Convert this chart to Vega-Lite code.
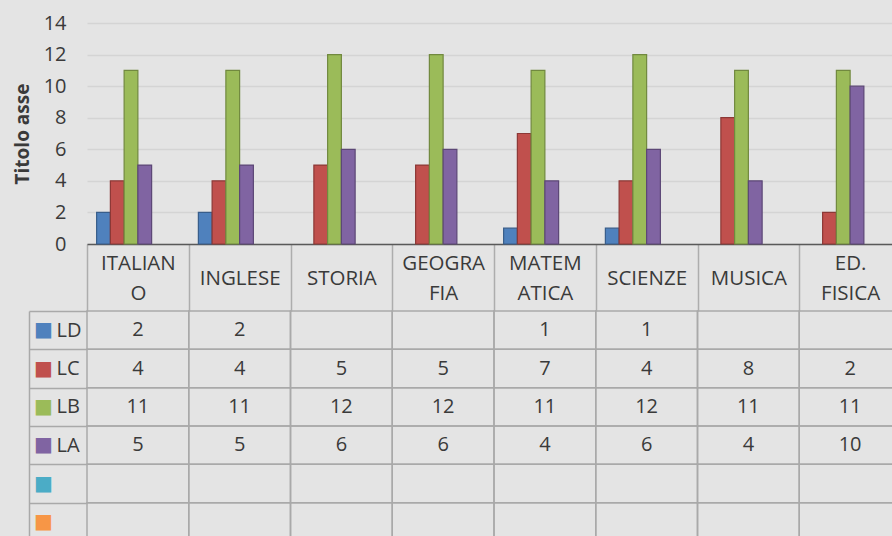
{
  "$schema": "https://vega.github.io/schema/vega-lite/v6.json",
  "background": "#e4e4e4",
  "padding": {"left": 13, "top": 13, "right": 0, "bottom": 0},
  "config": {"font": "Open Sans", "view": {"stroke": null}},
  "datasets": {
    "cells": [
      {"subject": "ITALIANO", "series": "LD", "value": 2},
      {"subject": "ITALIANO", "series": "LC", "value": 4},
      {"subject": "ITALIANO", "series": "LB", "value": 11},
      {"subject": "ITALIANO", "series": "LA", "value": 5},
      {"subject": "ITALIANO", "series": "Serie5", "value": null},
      {"subject": "ITALIANO", "series": "Serie6", "value": null},
      {"subject": "INGLESE", "series": "LD", "value": 2},
      {"subject": "INGLESE", "series": "LC", "value": 4},
      {"subject": "INGLESE", "series": "LB", "value": 11},
      {"subject": "INGLESE", "series": "LA", "value": 5},
      {"subject": "INGLESE", "series": "Serie5", "value": null},
      {"subject": "INGLESE", "series": "Serie6", "value": null},
      {"subject": "STORIA", "series": "LD", "value": null},
      {"subject": "STORIA", "series": "LC", "value": 5},
      {"subject": "STORIA", "series": "LB", "value": 12},
      {"subject": "STORIA", "series": "LA", "value": 6},
      {"subject": "STORIA", "series": "Serie5", "value": null},
      {"subject": "STORIA", "series": "Serie6", "value": null},
      {"subject": "GEOGRAFIA", "series": "LD", "value": null},
      {"subject": "GEOGRAFIA", "series": "LC", "value": 5},
      {"subject": "GEOGRAFIA", "series": "LB", "value": 12},
      {"subject": "GEOGRAFIA", "series": "LA", "value": 6},
      {"subject": "GEOGRAFIA", "series": "Serie5", "value": null},
      {"subject": "GEOGRAFIA", "series": "Serie6", "value": null},
      {"subject": "MATEMATICA", "series": "LD", "value": 1},
      {"subject": "MATEMATICA", "series": "LC", "value": 7},
      {"subject": "MATEMATICA", "series": "LB", "value": 11},
      {"subject": "MATEMATICA", "series": "LA", "value": 4},
      {"subject": "MATEMATICA", "series": "Serie5", "value": null},
      {"subject": "MATEMATICA", "series": "Serie6", "value": null},
      {"subject": "SCIENZE", "series": "LD", "value": 1},
      {"subject": "SCIENZE", "series": "LC", "value": 4},
      {"subject": "SCIENZE", "series": "LB", "value": 12},
      {"subject": "SCIENZE", "series": "LA", "value": 6},
      {"subject": "SCIENZE", "series": "Serie5", "value": null},
      {"subject": "SCIENZE", "series": "Serie6", "value": null},
      {"subject": "MUSICA", "series": "LD", "value": null},
      {"subject": "MUSICA", "series": "LC", "value": 8},
      {"subject": "MUSICA", "series": "LB", "value": 11},
      {"subject": "MUSICA", "series": "LA", "value": 4},
      {"subject": "MUSICA", "series": "Serie5", "value": null},
      {"subject": "MUSICA", "series": "Serie6", "value": null},
      {"subject": "ED. FISICA", "series": "LD", "value": null},
      {"subject": "ED. FISICA", "series": "LC", "value": 2},
      {"subject": "ED. FISICA", "series": "LB", "value": 11},
      {"subject": "ED. FISICA", "series": "LA", "value": 10},
      {"subject": "ED. FISICA", "series": "Serie5", "value": null},
      {"subject": "ED. FISICA", "series": "Serie6", "value": null}
    ]
  },
  "data": {"name": "cells"},
  "bounds": "flush",
  "spacing": 67,
  "vconcat": [
    {
      "width": 814,
      "height": 221,
      "mark": {"type": "bar", "strokeWidth": 1.2},
      "encoding": {
        "x": {
          "field": "subject", "type": "nominal",
          "scale": {"domain": ["ITALIANO", "INGLESE", "STORIA", "GEOGRAFIA", "MATEMATICA", "SCIENZE", "MUSICA", "ED. FISICA"], "paddingInner": 0, "paddingOuter": 0},
          "axis": {
            "title": null, "orient": "bottom",
            "domain": true, "domainColor": "#595959", "domainWidth": 1.5,
            "ticks": true, "tickBand": "extent", "tickSize": 67, "tickColor": "#adadad", "tickWidth": 1.5,
            "labelAngle": 0, "labelFontSize": 20.5, "labelColor": "#3a3a3a", "labelBaseline": "middle", "labelAlign": "center",
            "labelPadding": -47.5, "labelLineHeight": 15, "labelOverlap": false, "labelLimit": 0,
            "labelExpr": "datum.value == 'ITALIANO' ? ['ITALIAN', '\u200b', 'O'] : datum.value == 'GEOGRAFIA' ? ['GEOGRA', '\u200b', 'FIA'] : datum.value == 'MATEMATICA' ? ['MATEM', '\u200b', 'ATICA'] : datum.value == 'ED. FISICA' ? ['ED.', '\u200b', 'FISICA'] : ['\u200b', datum.label]",
            "grid": false
          }
        },
        "xOffset": {
          "field": "series", "type": "nominal",
          "scale": {"domain": ["LD", "LC", "LB", "LA", "Serie5", "Serie6"], "paddingInner": 0, "paddingOuter": 0.7}
        },
        "y": {
          "field": "value", "type": "quantitative",
          "scale": {"domain": [0, 14], "nice": false},
          "axis": {
            "values": [0, 2, 4, 6, 8, 10, 12, 14],
            "grid": true, "gridColor": "#d4d4d4", "gridWidth": 1.5,
            "domain": false, "ticks": false,
            "labelFontSize": 20, "labelColor": "#3a3a3a", "labelPadding": 21,
            "title": "Titolo asse", "titleFontSize": 19, "titleFontWeight": "bold", "titleColor": "#3a3a3a", "titlePadding": 11
          }
        },
        "color": {
          "field": "series", "type": "nominal",
          "scale": {"domain": ["LD", "LC", "LB", "LA", "Serie5", "Serie6"], "range": ["#4f81bd", "#c0504d", "#9bbb59", "#8064a2", "#4bacc6", "#f79646"]},
          "legend": null
        },
        "stroke": {
          "field": "series", "type": "nominal",
          "scale": {"domain": ["LD", "LC", "LB", "LA", "Serie5", "Serie6"], "range": ["#385d8a", "#8c3836", "#71893f", "#5c4776", "#357d91", "#b66d31"]},
          "legend": null
        }
      }
    },
    {
      "width": 814,
      "height": 230,
      "layer": [
        {
          "mark": {"type": "rect", "filled": false, "stroke": "#a9a9a9", "strokeWidth": 1.5},
          "encoding": {
            "x": {
              "field": "subject", "type": "nominal",
              "scale": {"domain": ["ITALIANO", "INGLESE", "STORIA", "GEOGRAFIA", "MATEMATICA", "SCIENZE", "MUSICA", "ED. FISICA"], "paddingInner": 0, "paddingOuter": 0},
              "axis": null
            },
            "y": {
              "field": "series", "type": "nominal",
              "scale": {"domain": ["LD", "LC", "LB", "LA", "Serie5", "Serie6"], "paddingInner": 0, "paddingOuter": 0},
              "axis": {
                "orient": "left", "offset": 58, "title": null, "grid": false,
                "domain": true, "domainColor": "#a9a9a9", "domainWidth": 1.5,
                "ticks": false, "tickSize": 0,
                "labelExpr": "'■'", "labelFont": "DejaVu Sans", "labelFontSize": 20,
                "labelAlign": "center", "labelBaseline": "middle", "labelPadding": -14,
                "labelColor": {"expr": "datum.value === 'LD' ? '#4f81bd' : datum.value === 'LC' ? '#c0504d' : datum.value === 'LB' ? '#9bbb59' : datum.value === 'LA' ? '#8064a2' : datum.value === 'Serie5' ? '#4bacc6' : '#f79646'"}
              }
            }
          }
        },
        {
          "transform": [{"filter": "isValid(datum.value)"}],
          "mark": {"type": "text", "fontSize": 20, "color": "#3a3a3a"},
          "encoding": {
            "x": {"field": "subject", "type": "nominal"},
            "y": {
              "field": "series", "type": "nominal",
              "axis": {
                "orient": "left", "title": null, "grid": false, "domain": false,
                "ticks": true, "tickBand": "extent", "tickSize": 58, "tickColor": "#a9a9a9", "tickWidth": 1.5,
                "labelExpr": "indexof(['LD', 'LC', 'LB', 'LA'], datum.value) >= 0 ? datum.label : ''",
                "labelAlign": "left", "labelBaseline": "middle", "labelPadding": -27,
                "labelFontSize": 20, "labelColor": "#3a3a3a"
              }
            },
            "text": {"field": "value", "type": "quantitative"}
          }
        }
      ],
      "resolve": {"axis": {"y": "independent"}}
    }
  ]
}
